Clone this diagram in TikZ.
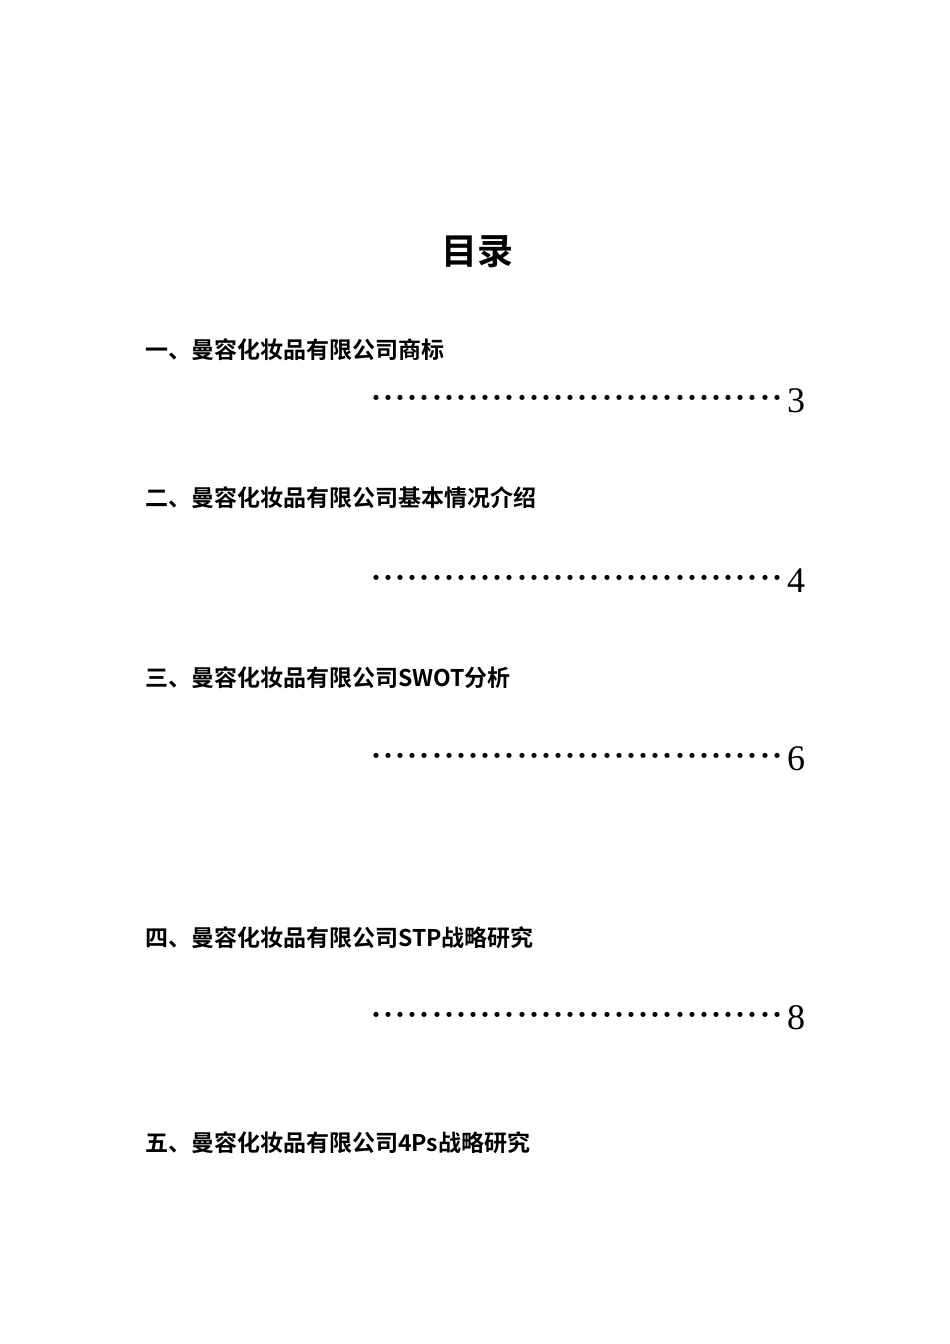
\documentclass[tikz,border=0pt]{standalone}
\usepackage{fontspec}
\newfontfamily\cjk{Noto Sans CJK SC}[BoldFont={* Bold}]
\setmainfont{Liberation Serif}
\newcommand{\dotrow}{\makebox[413pt][l]{\foreach \i in {1,...,34}{\makebox[12.15pt]{\bfseries ·}}}}
\begin{document}
\begin{tikzpicture}[x=1pt,y=-1pt,
  head/.style={anchor=west,inner sep=0pt,font=\cjk\bfseries\fontsize{23}{23}\selectfont},
  dots/.style={anchor=west,inner sep=0pt,font=\cjk\fontsize{20}{20}\selectfont},
  num/.style={anchor=west,inner sep=0pt,font=\fontsize{36}{36}\selectfont}]
\useasboundingbox[fill=white] (0,0) rectangle (950,1344);
\node[inner sep=0pt,font=\cjk\bfseries\fontsize{36}{36}\selectfont] (title) at (477,252) {目录};
\node[head] (h1) at (145,350) {一、曼容化妆品有限公司商标};
\node[dots] (d1) at (370,400) {\dotrow}; \node[num] (n1) at (787,401) {3};
\node[head] (h2) at (145,498) {二、曼容化妆品有限公司基本情况介绍};
\node[dots] (d2) at (370,580) {\dotrow}; \node[num] (n2) at (787,581) {4};
\node[head] (h3) at (145,678) {三、曼容化妆品有限公司SWOT分析};
\node[dots] (d3) at (370,758) {\dotrow}; \node[num] (n3) at (787,759) {6};
\node[head] (h4) at (145,938) {四、曼容化妆品有限公司STP战略研究};
\node[dots] (d4) at (370,1017) {\dotrow}; \node[num] (n4) at (787,1018) {8};
\node[head] (h5) at (145,1143) {五、曼容化妆品有限公司4Ps战略研究};
\end{tikzpicture}
\end{document}
